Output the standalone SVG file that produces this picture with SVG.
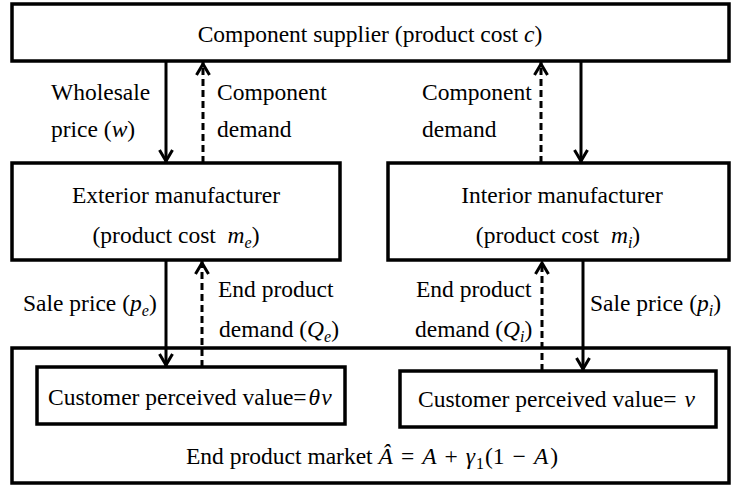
<svg xmlns="http://www.w3.org/2000/svg" width="731" height="486" viewBox="0 0 731 486">
<defs>
<style>
.box{fill:#fff;stroke:#000;stroke-width:3.5}
.t{font-family:"Liberation Serif","Times New Roman",serif;font-size:23.5px;fill:#000}
.m{font-style:italic}
.s{font-size:16px}
.c{stroke:#000;stroke-width:3;fill:none}
.d{stroke-dasharray:7 4}
</style>
<marker id="ah" markerUnits="userSpaceOnUse" viewBox="-16 -9 18 18" markerWidth="18" markerHeight="18" refX="0" refY="0" orient="auto" overflow="visible">
<path d="M-13,-6.5 L-2,0 L-13,6.5" fill="none" stroke="#000" stroke-width="3" stroke-linejoin="miter"/>
</marker>
</defs>
<rect width="731" height="486" fill="#fff"/>

<g id="supplier">
<rect class="box" x="12" y="4" width="717" height="57"/>
<text class="t" x="370" y="42" text-anchor="middle">Component supplier (product cost <tspan class="m">c</tspan>)</text>
</g>

<g id="exterior">
<rect class="box" x="12" y="163" width="328" height="97"/>
<text class="t" x="176" y="203" text-anchor="middle">Exterior manufacturer</text>
<text class="t" x="176" y="243" text-anchor="middle" xml:space="preserve">(product cost  <tspan class="m">m</tspan><tspan class="m s" dy="5">e</tspan><tspan dy="-5">)</tspan></text>
</g>

<g id="interior">
<rect class="box" x="388" y="163" width="341" height="97"/>
<text class="t" x="562" y="203" text-anchor="middle">Interior manufacturer</text>
<text class="t" x="558" y="243" text-anchor="middle" xml:space="preserve">(product cost  <tspan class="m">m</tspan><tspan class="m s" dy="5">i</tspan><tspan dy="-5">)</tspan></text>
</g>

<g id="market">
<rect class="box" x="12" y="348" width="717" height="135"/>
<text class="t" x="186" y="464">End product market <tspan class="m">Â</tspan><tspan dx="8">=</tspan><tspan class="m" dx="8">A</tspan><tspan dx="8">+</tspan><tspan class="m" dx="8">γ</tspan><tspan class="s" dx="1" dy="5">1</tspan><tspan dy="-5" dx="1">(1</tspan><tspan dx="8">−</tspan><tspan class="m" dx="8">A</tspan><tspan dx="2">)</tspan></text>
</g>

<g id="customer-exterior">
<rect class="box" x="37" y="367" width="308" height="57"/>
<text class="t" x="48" y="405">Customer perceived value=<tspan class="m" dx="2">θ</tspan><tspan class="m" dx="1">v</tspan></text>
</g>

<g id="customer-interior">
<rect class="box" x="400" y="371" width="316" height="56"/>
<text class="t" x="418" y="407">Customer perceived value= <tspan class="m" dx="2">v</tspan></text>
</g>

<g id="connectors">
<line class="c" x1="166" y1="61" x2="166" y2="163" marker-end="url(#ah)"/>
<line class="c d" x1="203" y1="163" x2="203" y2="62" marker-end="url(#ah)"/>
<line class="c d" x1="541" y1="163" x2="541" y2="62" marker-end="url(#ah)"/>
<line class="c" x1="581" y1="61" x2="581" y2="163" marker-end="url(#ah)"/>
<line class="c" x1="166" y1="260" x2="166" y2="367" marker-end="url(#ah)"/>
<line class="c d" x1="202" y1="367" x2="202" y2="261" marker-end="url(#ah)"/>
<line class="c d" x1="542" y1="371" x2="542" y2="261" marker-end="url(#ah)"/>
<line class="c" x1="583" y1="260" x2="583" y2="371" marker-end="url(#ah)"/>
</g>

<g id="labels">
<text class="t" x="51" y="100">Wholesale</text>
<text class="t" x="51" y="137">price (<tspan class="m">w</tspan>)</text>
<text class="t" x="217" y="100">Component</text>
<text class="t" x="217" y="137">demand</text>
<text class="t" x="422" y="100">Component</text>
<text class="t" x="422" y="137">demand</text>
<text class="t" x="23" y="311">Sale price (<tspan class="m">p</tspan><tspan class="m s" dy="5">e</tspan><tspan dy="-5">)</tspan></text>
<text class="t" x="218" y="297">End product</text>
<text class="t" x="219" y="337">demand (<tspan class="m">Q</tspan><tspan class="m s" dy="5">e</tspan><tspan dy="-5">)</tspan></text>
<text class="t" x="416" y="297">End product</text>
<text class="t" x="415" y="337">demand (<tspan class="m">Q</tspan><tspan class="m s" dy="5">i</tspan><tspan dy="-5">)</tspan></text>
<text class="t" x="590" y="311">Sale price (<tspan class="m">p</tspan><tspan class="m s" dy="5">i</tspan><tspan dy="-5">)</tspan></text>
</g>
</svg>
